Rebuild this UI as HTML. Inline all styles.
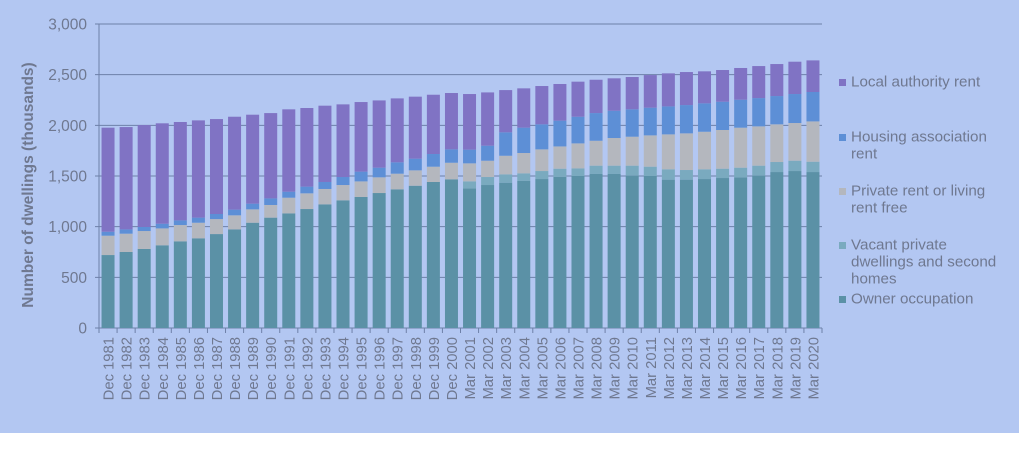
<!DOCTYPE html>
<html><head><meta charset="utf-8"><style>
html,body{margin:0;padding:0;background:#fff;}
svg{display:block;font-family:"Liberation Sans",sans-serif;}
</style></head><body>
<svg id="c" width="1022" height="462" xmlns="http://www.w3.org/2000/svg"></svg>
<script>
const d=[
[720,0,911,950,1977],[750,0,931,973,1983],[780,0,957,997,2003],[816,0,983,1029,2020],[855,0,1016,1062,2033],
[885,0,1039,1089,2049],[927,0,1075,1125,2062],[973,0,1112,1168,2085],[1039,0,1171,1227,2105],[1089,0,1214,1279,2121],
[1131,0,1286,1345,2158],[1174,0,1329,1395,2171],[1220,0,1372,1441,2194],[1260,0,1411,1490,2207],[1293,0,1447,1543,2230],
[1332,0,1487,1582,2246],[1368,0,1523,1635,2266],[1404,0,1556,1671,2283],[1441,0,1592,1717,2302],[1467,0,1631,1763,2319],
[1378,1447,1625,1760,2309],[1411,1490,1651,1799,2325],[1434,1516,1700,1931,2348],[1451,1526,1727,1977,2365],[1470,1549,1763,2010,2388],
[1493,1572,1792,2046,2408],[1500,1575,1822,2085,2431],[1520,1602,1848,2121,2450],[1520,1602,1875,2144,2464],[1503,1602,1888,2158,2477],
[1500,1592,1901,2174,2496],[1464,1566,1911,2187,2513],[1464,1559,1921,2200,2526],[1470,1566,1937,2217,2533],[1480,1572,1954,2233,2546],
[1487,1582,1977,2253,2566],[1503,1602,1990,2269,2585],[1539,1638,2010,2289,2605],[1549,1651,2023,2309,2628],[1539,1641,2039,2329,2641]];
const col=['#5b91a6','#7aaabf','#b4b7be','#5d8fd6','#8073c4'];
const Y=v=>328-v*0.10133, x0=99, cw=18.075, bw=13;
let s='<rect width="1019" height="433" fill="#b3c7f2"/>';
for(let i=0;i<=6;i++){const y=Y(i*500);s+=`<line x1="95" x2="822" y1="${y}" y2="${y}" stroke="#6e80a8" stroke-width="1"/>`;
s+=`<text x="87" y="${y+5.5}" text-anchor="end" font-size="15.5" fill="#6f7890">${(i*500).toLocaleString('en-US')}</text>`;}
s+=`<line x1="99" x2="99" y1="24" y2="328" stroke="#6e80a8"/>`;
d.forEach((r,i)=>{const x=x0+i*cw+(cw-bw)/2;let prev=0;
 for(let k=0;k<5;k++){const v=r[k];if(!v)continue;s+=`<rect x="${x}" y="${Y(v)}" width="${bw}" height="${Y(prev)-Y(v)}" fill="${col[k]}"/>`;prev=v;}
 const tx=x0+i*cw;s+=`<line x1="${tx}" x2="${tx}" y1="328" y2="333" stroke="#6e80a8"/>`;
 const lab=i<20?'Dec '+(1981+i):'Mar '+(1981+i);const cx=x0+i*cw+cw/2+5.5;
 s+=`<text transform="translate(${cx},337) rotate(-90)" text-anchor="end" font-size="14.8" fill="#6f7890">${lab}</text>`;});
s+=`<line x1="822" x2="822" y1="328" y2="333" stroke="#6e80a8"/>`;
s+=`<text transform="translate(33,185) rotate(-90)" text-anchor="middle" font-size="15.5" font-weight="bold" fill="#6f7890">Number of dwellings (thousands)</text>`;
const leg=[[4,85,['Local authority rent']],[3,140,['Housing association','rent']],[2,194,['Private rent or living','rent free']],[1,248,['Vacant private','dwellings and second','homes']],[0,302,['Owner occupation']]];
leg.forEach(([k,y,ls])=>{s+=`<rect x="839" y="${y-6}" width="7" height="7" fill="${col[k]}"/>`;
 ls.forEach((t,j)=>s+=`<text x="851" y="${y+1.5+j*17}" font-size="15.2" fill="#6f7890">${t}</text>`);});
document.getElementById('c').innerHTML=s;
</script>
</body></html>
